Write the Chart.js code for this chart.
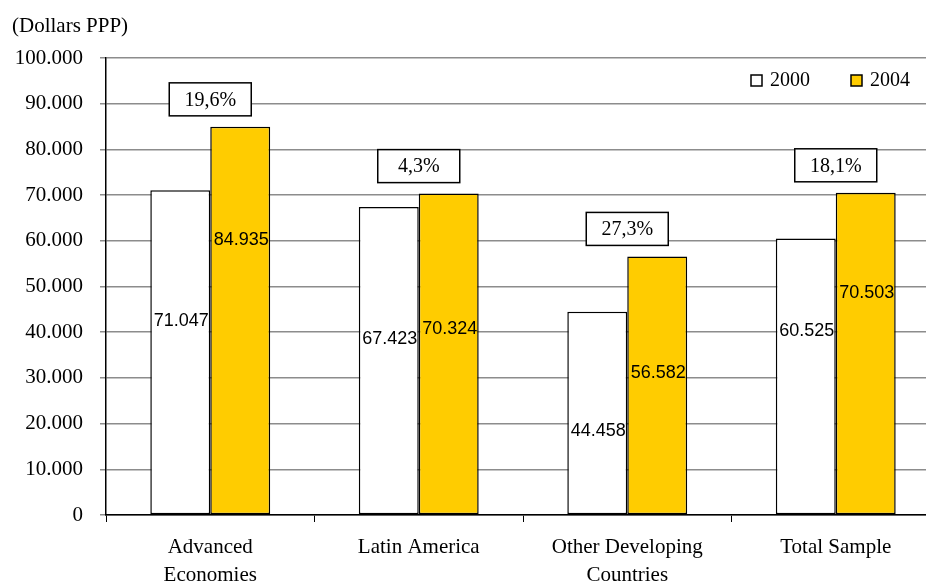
<!DOCTYPE html>
<html>
<head>
<meta charset="utf-8">
<script src="https://cdn.jsdelivr.net/npm/chart.js@4/dist/chart.umd.min.js"></script>
<style>
  html, body { margin: 0; padding: 0; background: #fff; overflow: hidden; }
  #wrap { position: relative; width: 940px; height: 583px; }
</style>
</head>
<body>
<div id="wrap"><canvas id="incomeChart"></canvas></div>
<script>
// data
const categories = [['Advanced', 'Economies'], 'Latin America', ['Other Developing', 'Countries'], 'Total Sample'];
const values2000 = [71047, 67423, 44458, 60525];
const values2004 = [84935, 70324, 56582, 70503];
const growthLabels = ['19,6%', '4,3%', '27,3%', '18,1%'];
const seriesNames = ['2000', '2004'];
const yTicks = { min: 0, max: 100000, step: 10000 };

const serif = '"Liberation Serif", "Times New Roman", serif';
const sans = '"Liberation Sans", Arial, sans-serif';

function fmt(v) {
    return String(v).replace(/\B(?=(\d{3})+(?!\d))/g, '.');
}

/* value labels, growth boxes, legend, unit title */
const extras = {
    id: 'extras',
    afterDatasetsDraw(chart, args, opts) {
        const ctx = chart.ctx;
        const x = chart.scales.x;

        // value labels inside the bars
        ctx.save();
        ctx.font = '18px ' + sans;
        ctx.fillStyle = '#000';
        ctx.textAlign = 'center';
        ctx.textBaseline = 'middle';
        chart.data.datasets.forEach(function (ds, di) {
            chart.getDatasetMeta(di).data.forEach(function (bar, i) {
                ctx.fillText(fmt(ds.data[i]), bar.x + 1, bar.y + opts.labelDrop[di][i]);
            });
        });
        ctx.restore();

        // growth boxes above each pair
        ctx.save();
        ctx.font = '20px ' + serif;
        ctx.textAlign = 'center';
        ctx.textBaseline = 'middle';
        growthLabels.forEach(function (txt, i) {
            const top = Math.min(chart.getDatasetMeta(0).data[i].y, chart.getDatasetMeta(1).data[i].y);
            const w = 82, h = 33;
            const cx = x.getPixelForValue(i);
            const by = top - 11 - h;
            ctx.fillStyle = '#fff';
            ctx.fillRect(cx - w / 2, by, w, h);
            ctx.strokeStyle = '#000';
            ctx.lineWidth = 1.5;
            ctx.strokeRect(cx - w / 2, by, w, h);
            ctx.fillStyle = '#000';
            ctx.fillText(txt, cx, by + h / 2 + 1);
        });
        ctx.restore();

        // legend
        ctx.save();
        ctx.font = '20px ' + serif;
        ctx.textBaseline = 'middle';
        const lx = [751, 851];
        chart.data.datasets.forEach(function (ds, di) {
            ctx.fillStyle = ds.backgroundColor;
            ctx.fillRect(lx[di], 75, 11, 11);
            ctx.strokeStyle = '#000';
            ctx.lineWidth = 1.5;
            ctx.strokeRect(lx[di], 75, 11, 11);
            ctx.fillStyle = '#000';
            ctx.fillText(ds.label, lx[di] + 19, 81);
        });
        ctx.restore();

        // unit title
        ctx.save();
        ctx.font = '21px ' + serif;
        ctx.fillStyle = '#000';
        ctx.textBaseline = 'middle';
        ctx.fillText('(Dollars PPP)', 12, 26);
        ctx.restore();
    }
};

new Chart(document.getElementById('incomeChart'), {
    type: 'bar',
    data: {
        labels: categories,
        datasets: [{
            label: seriesNames[0],
            data: values2000,
            backgroundColor: '#ffffff',
            borderColor: '#000000',
            borderWidth: 1.5,
            borderSkipped: false
        }, {
            label: seriesNames[1],
            data: values2004,
            backgroundColor: '#ffcc00',
            borderColor: '#000000',
            borderWidth: 1.5,
            borderSkipped: false
        }]
    },
    options: {
        responsive: true,
        maintainAspectRatio: false,
        animation: false,
        categoryPercentage: 0.575,
        barPercentage: 1.0,
        layout: { padding: { top: 58, left: 0, right: 0, bottom: 0 } },
        plugins: {
            legend: { display: false },
            tooltip: { enabled: false },
            extras: {
                labelDrop: [[131, 132, 119, 93], [113, 135, 117, 100]]
            }
        },
        scales: {
            x: {
                grid: { drawOnChartArea: false, offset: true, tickLength: 7, color: '#000', lineWidth: 1 },
                border: { color: '#000', width: 1.5 },
                ticks: {
                    color: '#000',
                    font: { family: serif, size: 21, lineHeight: 1.33 },
                    padding: 12,
                    maxRotation: 0
                },
                afterFit: function (scale) { scale.height = 68; }
            },
            y: {
                min: yTicks.min,
                max: yTicks.max,
                grid: { color: '#8c8c8c', lineWidth: 1.5, tickLength: 6 },
                border: { color: '#000', width: 1.5 },
                ticks: {
                    stepSize: yTicks.step,
                    color: '#000',
                    font: { family: serif, size: 21 },
                    padding: 17,
                    callback: function (v) { return fmt(v); }
                },
                afterFit: function (scale) { scale.width = 106; }
            }
        }
    },
    plugins: [extras]
});
</script>
</body>
</html>
